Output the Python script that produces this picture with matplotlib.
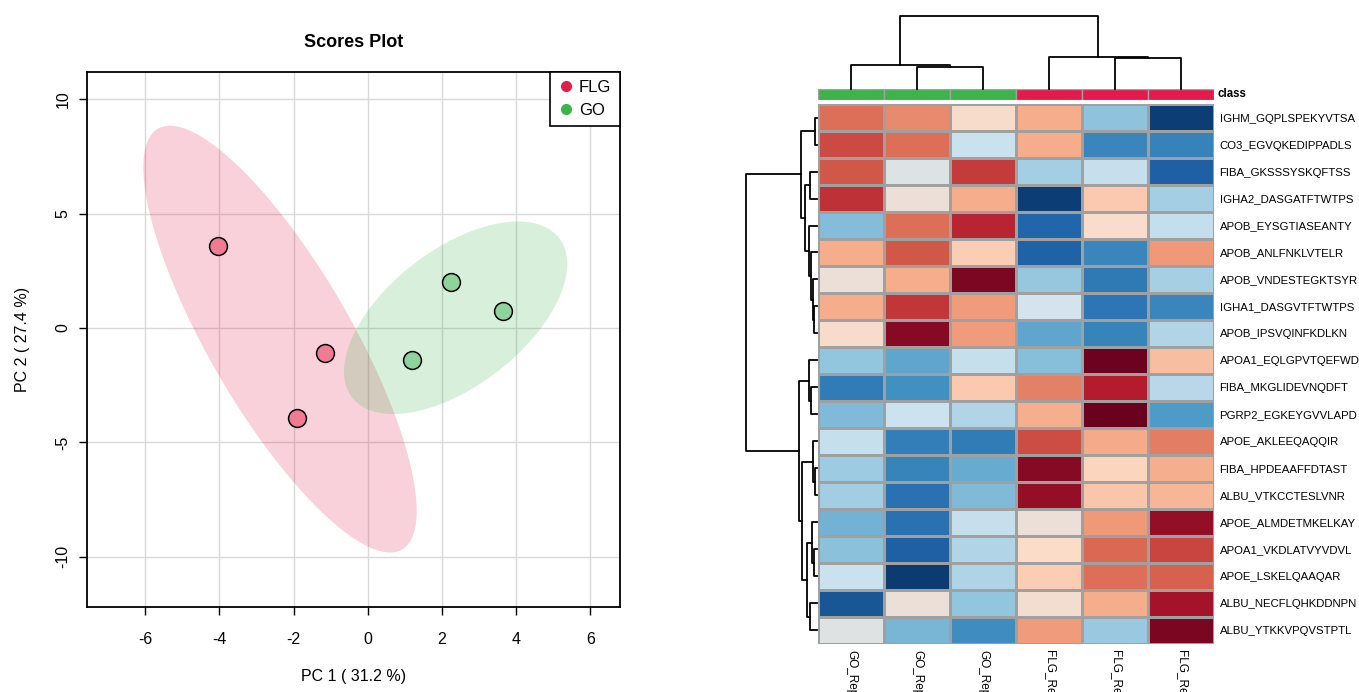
import numpy as np
import matplotlib
matplotlib.use('Agg')
import matplotlib.pyplot as plt
from matplotlib.colors import LinearSegmentedColormap

plt.rcParams['font.family'] = ['Liberation Sans', 'DejaVu Sans']
plt.rcParams['axes.unicode_minus'] = False

# scores plot data
flg_pc1 = [-4.05, -1.15, -1.9]
flg_pc2 = [3.6, -1.1, -3.95]
go_pc1 = [2.25, 3.65, 1.2]
go_pc2 = [2.0, 0.75, -1.4]

# heatmap data
samples = ['GO_Rep1', 'GO_Rep2', 'GO_Rep3', 'FLG_Rep1', 'FLG_Rep2', 'FLG_Rep3']
sample_class = ['GO', 'GO', 'GO', 'FLG', 'FLG', 'FLG']
peptides = ['IGHM_GQPLSPEKYVTSA', 'CO3_EGVQKEDIPPADLS', 'FIBA_GKSSSYSKQFTSS',
            'IGHA2_DASGATFTWTPS', 'APOB_EYSGTIASEANTY', 'APOB_ANLFNKLVTELR',
            'APOB_VNDESTEGKTSYR', 'IGHA1_DASGVTFTWTPS', 'APOB_IPSVQINFKDLKN',
            'APOA1_EQLGPVTQEFWD', 'FIBA_MKGLIDEVNQDFT', 'PGRP2_EGKEYGVVLAPD',
            'APOE_AKLEEQAQQIR', 'FIBA_HPDEAAFFDTAST', 'ALBU_VTKCCTESLVNR',
            'APOE_ALMDETMKELKAY', 'APOA1_VKDLATVYVDVL', 'APOE_LSKELQAAQAR',
            'ALBU_NECFLQHKDDNPN', 'ALBU_YTKKVPQVSTPTL']
values = np.array([
    [0.50, 0.42, 0.08, 0.30, -0.34, -0.94],
    [0.62, 0.50, -0.14, 0.30, -0.62, -0.64],
    [0.58, -0.05, 0.67, -0.27, -0.15, -0.80],
    [0.70, 0.02, 0.30, -0.94, 0.18, -0.27],
    [-0.37, 0.50, 0.74, -0.78, 0.09, -0.16],
    [0.30, 0.58, 0.17, -0.79, -0.62, 0.37],
    [0.02, 0.30, 0.93, -0.32, -0.68, -0.26],
    [0.30, 0.68, 0.36, -0.09, -0.70, -0.62],
    [0.08, 0.90, 0.36, -0.47, -0.63, -0.22],
    [-0.33, -0.47, -0.15, -0.36, 0.98, 0.23],
    [-0.67, -0.57, 0.18, 0.45, 0.76, -0.20],
    [-0.38, -0.13, -0.22, 0.29, 0.99, -0.52],
    [-0.15, -0.66, -0.67, 0.61, 0.31, 0.46],
    [-0.29, -0.63, -0.45, 0.90, 0.14, 0.29],
    [-0.28, -0.72, -0.38, 0.86, 0.20, 0.26],
    [-0.42, -0.72, -0.15, 0.02, 0.37, 0.86],
    [-0.35, -0.80, -0.22, 0.10, 0.53, 0.64],
    [-0.14, -0.95, -0.23, 0.17, 0.50, 0.55],
    [-0.84, 0.02, -0.33, 0.06, 0.30, 0.82],
    [-0.04, -0.40, -0.58, 0.36, -0.31, 0.94]])

# dendrograms: (left, right, height), leaves are display indices
col_tree = ((0, (1, 2, 22), 24), (3, (4, 5, 30.7), 32.3), 73)
row_top = ((0, 1, 1.7), ((2, 3, 6.7), (4, (5, (6, (7, 8, 3), 4.5), 6), 8.5), 12.3), 15.7)
row_low = ((9, (10, 11, 5.7), 7.7),
           ((12, (13, 14, 2.5), 4.3), ((15, (16, 17, 3), 5), (18, 19, 7.3), 10), 15), 18.3)
row_tree = (row_top, row_low, 71.7)

class_colors = {'FLG': '#E31A4B', 'GO': '#3CB44B'}

fig = plt.figure(figsize=(13.59, 6.92), dpi=100)

# ---- scores plot ----
ax = fig.add_axes([0.064, 0.1228, 0.392, 0.7732])
ax.set_xlim(-7.57, 6.79)
ax.set_ylim(-12.2, 11.2)
ax.set_xticks(np.arange(-6, 7, 2))
ax.set_yticks(np.arange(-10, 11, 5))
ax.grid(True, color='#D9D9D9', linewidth=1)
ax.set_axisbelow(True)

def conf_ellipse(x, y, color):
    pts = np.vstack([x, y])
    cen = pts.mean(axis=1)
    cov = np.cov(pts)
    vals, vecs = np.linalg.eigh(cov)
    t = np.linspace(0, 2 * np.pi, 200)
    r = np.sqrt(5.991)
    circ = np.vstack([np.cos(t), np.sin(t)])
    e = vecs @ (np.sqrt(vals)[:, None] * circ) * r + cen[:, None]
    ax.fill(e[0], e[1], color=color, alpha=0.2, linewidth=0)

conf_ellipse(flg_pc1, flg_pc2, class_colors['FLG'])
conf_ellipse(go_pc1, go_pc2, class_colors['GO'])

ax.scatter(flg_pc1, flg_pc2, s=165, facecolor='#EF7C93', edgecolor='black', linewidth=1.1, zorder=3)
ax.scatter(go_pc1, go_pc2, s=165, facecolor='#8FD39C', edgecolor='black', linewidth=1.1, zorder=3)

h1, = ax.plot([], [], 'o', color=class_colors['FLG'], markersize=7)
h2, = ax.plot([], [], 'o', color=class_colors['GO'], markersize=7)
leg = ax.legend([h1, h2], ['FLG', 'GO'], loc='upper right', borderaxespad=0,
                fancybox=False, edgecolor='black', fontsize=12, handletextpad=0.25,
                handlelength=1.0, borderpad=0.5, labelspacing=0.45, framealpha=1)
leg.get_frame().set_linewidth(1.2)

for s in ax.spines.values():
    s.set_linewidth(1.3)
    s.set_color('black')
ax.tick_params(axis='x', length=6, width=1, pad=12, labelsize=11.5)
ax.tick_params(axis='y', length=6, width=1, pad=6, labelsize=11.5)
for lab in ax.get_yticklabels():
    lab.set_rotation(90)
    lab.set_va('center')
ax.set_xlabel('PC 1 ( 31.2 %)', fontsize=11.5, labelpad=16)
ax.set_ylabel('PC 2 ( 27.4 %)', fontsize=11.5, labelpad=18)
ax.set_title('Scores Plot', fontsize=13, fontweight='bold', pad=18)

# ---- heatmap ----
rdbu = ['#053061', '#2166AC', '#4393C3', '#92C5DE', '#D1E5F0',
        '#FDDBC7', '#F4A582', '#D6604D', '#B2182B', '#67001F']
cmap = LinearSegmentedColormap.from_list('rdbu10', rdbu, N=256)

hl, hb, hw, hh = 0.6019, 0.0694, 0.2914, 0.7803
hax = fig.add_axes([hl, hb, hw, hh])
nr, nc = values.shape
hax.pcolormesh(np.arange(nc + 1), np.arange(nr + 1), values, cmap=cmap, vmin=-1, vmax=1,
               edgecolors='#A0A0A0', linewidth=1)
hax.set_xlim(0, nc)
hax.set_ylim(nr, 0)
hax.set_yticks(np.arange(nr) + 0.5)
hax.set_yticklabels(peptides, fontsize=8.2)
hax.yaxis.tick_right()
hax.set_xticks(np.arange(nc) + 0.5)
hax.set_xticklabels(samples, rotation=-90, fontsize=8.5, va='top')
hax.tick_params(length=0, pad=4)
for s in hax.spines.values():
    s.set_visible(False)

# class bar
cax = fig.add_axes([hl, 0.8555, hw, 0.0159])
for i, c in enumerate(sample_class):
    cax.bar(i + 0.5, 1, width=1, color=class_colors[c], edgecolor='#A0A0A0', linewidth=1)
cax.set_xlim(0, nc)
cax.set_ylim(0, 1)
cax.axis('off')
cax.text(1.01, 0.5, 'class', transform=cax.transAxes, fontsize=8.3, fontweight='bold', va='center')

def draw_tree(a, node, vertical):
    if isinstance(node, int):
        return node + 0.5, 0
    l, r, h = node
    pl, hl_ = draw_tree(a, l, vertical)
    pr, hr = draw_tree(a, r, vertical)
    xs = [pl, pl, pr, pr]
    ys = [hl_, h, h, hr]
    if vertical:
        a.plot(xs, ys, color='black', linewidth=1.3, clip_on=False)
    else:
        a.plot(ys, xs, color='black', linewidth=1.3, clip_on=False)
    return (pl + pr) / 2, h

# column dendrogram
dax = fig.add_axes([hl, 0.8714, hw, 0.1055])
draw_tree(dax, col_tree, True)
dax.set_xlim(0, nc)
dax.set_ylim(0, 73)
dax.axis('off')

# row dendrogram
rax = fig.add_axes([0.549, hb, 0.0522, hh])
draw_tree(rax, row_tree, False)
rax.set_ylim(nr, 0)
rax.set_xlim(71.7, 0)
rax.axis('off')

fig.savefig('out.png', dpi=100)
